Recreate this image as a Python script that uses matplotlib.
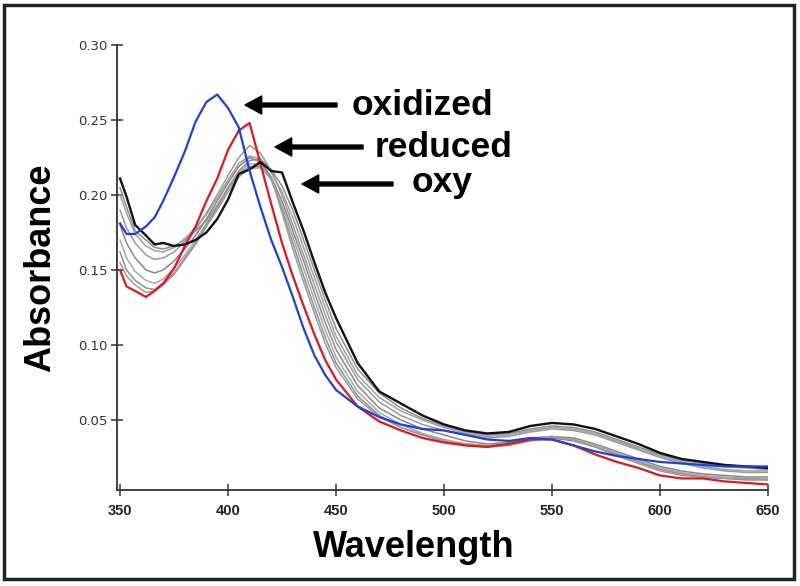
import matplotlib
matplotlib.use("Agg")
import matplotlib.pyplot as plt
from matplotlib.patches import Rectangle

# wavelength grid (nm)
wavelength = [350, 353, 357, 362, 366, 370, 375, 380, 385, 390, 395, 400, 405, 410,
              415, 420, 425, 430, 435, 440, 445, 450, 460, 470, 480, 490, 500, 510,
              520, 530, 540, 550, 560, 570, 580, 590, 600, 610, 620, 630, 640, 650]

# oxidized (blue)
oxidized = [0.181, 0.174, 0.174, 0.179, 0.185, 0.196, 0.212, 0.229, 0.249, 0.262, 0.267,
            0.258, 0.245, 0.216, 0.192, 0.170, 0.152, 0.132, 0.111, 0.093, 0.080, 0.070,
            0.059, 0.052, 0.047, 0.044, 0.043, 0.040, 0.037, 0.036, 0.038, 0.037, 0.033,
            0.029, 0.026, 0.024, 0.022, 0.021, 0.020, 0.019, 0.019, 0.019]

# reduced (red)
reduced = [0.150, 0.139, 0.136, 0.132, 0.136, 0.141, 0.151, 0.166, 0.179, 0.196, 0.211,
           0.230, 0.243, 0.248, 0.221, 0.194, 0.168, 0.146, 0.126, 0.107, 0.090, 0.077,
           0.059, 0.049, 0.043, 0.038, 0.035, 0.033, 0.032, 0.034, 0.037, 0.037, 0.033,
           0.027, 0.022, 0.018, 0.013, 0.011, 0.011, 0.009, 0.008, 0.007]

# oxy (black)
oxy = [0.211, 0.199, 0.180, 0.173, 0.167, 0.168, 0.166, 0.167, 0.170, 0.175, 0.184,
       0.197, 0.214, 0.217, 0.222, 0.216, 0.215, 0.195, 0.176, 0.155, 0.135, 0.118,
       0.088, 0.069, 0.061, 0.053, 0.047, 0.043, 0.041, 0.042, 0.046, 0.048, 0.047,
       0.044, 0.039, 0.034, 0.028, 0.024, 0.022, 0.020, 0.019, 0.018]

# intermediate spectra (gray)
inter_1 = [0.205, 0.192, 0.176, 0.170, 0.165, 0.164, 0.166, 0.170, 0.176, 0.183, 0.193,
           0.205, 0.216, 0.223, 0.224, 0.217, 0.206, 0.190, 0.170, 0.150, 0.130, 0.111,
           0.084, 0.068, 0.058, 0.051, 0.046, 0.042, 0.040, 0.041, 0.044, 0.046, 0.045,
           0.042, 0.037, 0.032, 0.027, 0.023, 0.021, 0.019, 0.018, 0.017]
inter_2 = [0.200, 0.188, 0.174, 0.166, 0.163, 0.162, 0.165, 0.171, 0.178, 0.187, 0.198,
           0.210, 0.221, 0.226, 0.224, 0.215, 0.202, 0.185, 0.165, 0.145, 0.125, 0.106,
           0.080, 0.065, 0.056, 0.050, 0.045, 0.041, 0.039, 0.040, 0.043, 0.045, 0.044,
           0.041, 0.036, 0.031, 0.026, 0.022, 0.019, 0.017, 0.016, 0.016]
inter_3 = [0.190, 0.178, 0.168, 0.160, 0.157, 0.158, 0.162, 0.169, 0.177, 0.188, 0.200,
           0.213, 0.225, 0.233, 0.228, 0.216, 0.200, 0.180, 0.160, 0.140, 0.120, 0.102,
           0.077, 0.062, 0.053, 0.047, 0.043, 0.040, 0.038, 0.039, 0.042, 0.044, 0.043,
           0.040, 0.035, 0.030, 0.025, 0.021, 0.018, 0.016, 0.015, 0.015]
inter_4 = [0.180, 0.168, 0.158, 0.150, 0.148, 0.150, 0.156, 0.164, 0.173, 0.184, 0.196,
           0.208, 0.219, 0.225, 0.222, 0.212, 0.196, 0.176, 0.156, 0.135, 0.115, 0.097,
           0.073, 0.058, 0.050, 0.044, 0.040, 0.036, 0.034, 0.035, 0.038, 0.039, 0.038,
           0.034, 0.029, 0.024, 0.019, 0.016, 0.014, 0.013, 0.012, 0.012]
inter_5 = [0.170, 0.158, 0.149, 0.143, 0.141, 0.144, 0.151, 0.160, 0.170, 0.181, 0.193,
           0.205, 0.215, 0.221, 0.220, 0.210, 0.193, 0.172, 0.151, 0.130, 0.110, 0.092,
           0.069, 0.055, 0.047, 0.041, 0.037, 0.034, 0.033, 0.034, 0.037, 0.038, 0.037,
           0.033, 0.028, 0.023, 0.018, 0.015, 0.013, 0.012, 0.011, 0.011]
inter_6 = [0.162, 0.150, 0.143, 0.138, 0.137, 0.141, 0.148, 0.158, 0.168, 0.180, 0.192,
           0.204, 0.214, 0.219, 0.219, 0.211, 0.190, 0.168, 0.146, 0.125, 0.105, 0.088,
           0.066, 0.053, 0.045, 0.040, 0.036, 0.033, 0.032, 0.033, 0.036, 0.038, 0.036,
           0.032, 0.027, 0.022, 0.017, 0.014, 0.012, 0.011, 0.010, 0.010]
inter_7 = [0.155, 0.146, 0.140, 0.135, 0.136, 0.140, 0.147, 0.157, 0.167, 0.179, 0.190,
           0.202, 0.212, 0.218, 0.218, 0.212, 0.188, 0.164, 0.142, 0.121, 0.101, 0.085,
           0.064, 0.052, 0.045, 0.040, 0.036, 0.034, 0.033, 0.034, 0.037, 0.039, 0.037,
           0.032, 0.026, 0.021, 0.016, 0.013, 0.012, 0.011, 0.011, 0.010]

intermediates = [inter_1, inter_2, inter_3, inter_4, inter_5, inter_6, inter_7]
gray_colors = ["#8c8c8c", "#a0a0a0", "#9a9a9a", "#888888", "#a8a8a8", "#909090", "#9c9c9c"]

x_ticks = [350, 400, 450, 500, 550, 600, 650]
y_ticks = [0.05, 0.10, 0.15, 0.20, 0.25, 0.30]

W, H = 800, 586


def fx(px):
    return px / W


def fy(py):
    return 1 - py / H


fig = plt.figure(figsize=(8, 5.86), dpi=100)
ax = fig.add_axes([fx(117), fy(490), fx(768) - fx(117), fy(45) - fy(490)])

for vals, c in zip(intermediates, gray_colors):
    ax.plot(wavelength, vals, color=c, lw=1.1)
ax.plot(wavelength, reduced, color="#e3161d", lw=1.6)
ax.plot(wavelength, oxy, color="#111111", lw=1.7)
ax.plot(wavelength, oxidized, color="#1f3fe0", lw=1.6)

ax.set_xlim(348.6, 650)
ax.set_ylim(0.0033, 0.30)
ax.set_xticks(x_ticks)
ax.set_yticks(y_ticks)
ax.set_yticklabels(["%.2f" % v for v in y_ticks])

for side in ["top", "right"]:
    ax.spines[side].set_visible(False)
for side in ["left", "bottom"]:
    ax.spines[side].set_color("#333333")
    ax.spines[side].set_linewidth(1.3)

ax.tick_params(axis="both", direction="inout", length=8, width=1.1, color="#333333")
ax.tick_params(axis="y", pad=3)
ax.tick_params(axis="x", pad=6)
for lab in ax.get_yticklabels():
    lab.set_fontfamily("DejaVu Sans")
    lab.set_fontsize(9.5)
    lab.set_color("#333333")
for lab in ax.get_xticklabels():
    lab.set_fontfamily("Liberation Sans")
    lab.set_fontweight("bold")
    lab.set_fontsize(10.5)
    lab.set_color("#222222")

big = dict(family="Liberation Sans", fontweight="bold", fontsize=26, color="black")
fig.text(fx(414), fy(557), "Wavelength", ha="center", va="baseline", **big)
fig.text(fx(41), fy(268), "Absorbance", ha="center", va="center", rotation=90, **big)

# labels with arrows
note = dict(family="Liberation Sans", fontweight="bold", fontsize=25.5, color="black",
            ha="left", va="baseline")
fig.text(fx(352), fy(115), "oxidized", **note)
fig.text(fx(375), fy(157), "reduced", **note)
fig.text(fx(412), fy(192), "oxy", **note)

arrow = dict(facecolor="black", edgecolor="black", width=2.8, headwidth=13,
             headlength=12, shrink=0)
for tail, head in [((337, 105), (245, 105)), ((363, 147), (275, 147)), ((393, 184), (302, 184))]:
    ax.annotate("", xy=(fx(head[0]), fy(head[1])), xytext=(fx(tail[0]), fy(tail[1])),
                xycoords="figure fraction", textcoords="figure fraction",
                arrowprops=arrow)

# outer frame
fig.add_artist(Rectangle((fx(4), fy(579)), fx(794) - fx(4), fy(5) - fy(579),
                         transform=fig.transFigure, fill=False, lw=2.5,
                         edgecolor="#222222"))

fig.savefig("out.png", dpi=100)
